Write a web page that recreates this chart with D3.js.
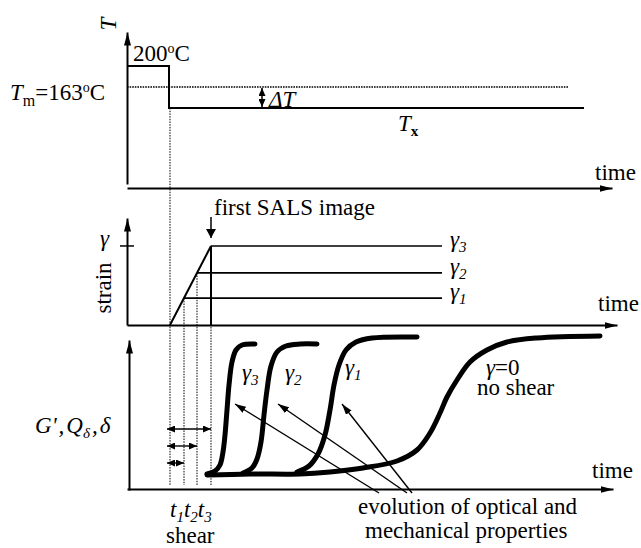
<!DOCTYPE html>
<html>
<head>
<meta charset="utf-8">
<script src="https://cdn.jsdelivr.net/npm/d3@7"></script>
<style>
  html, body { margin: 0; padding: 0; background: #fff; }
  svg { display: block; }
  text { fill: #000; font-family: "Liberation Serif", "Times New Roman", Times, serif; }
</style>
</head>
<body>
<svg id="chart" width="641" height="548"></svg>
<script>
// ---- Temperature protocol (°C vs. time, arbitrary units) ----
const profileTime = [0, 42, 42, 457];
const profileTemp = [200, 200, 126, 126];
const meltTemp = 163;
const meltLineEnd = 442;
const deltaTAt = 135;

// ---- Shear step: start of shear, t1, t2, t3 ----
const shearTimes = [43, 57, 70, 84];
const strainLevels = [0.34, 0.66, 1.0];       // γ1, γ2, γ3 (relative to γ)
const strainNames = ["1", "2", "3"];
const strainLineEnd = 315;

// ---- Property evolution curves (time, property) ----
const curveGamma3 = [[80,16],[88,19],[93,25],[96,38],[98,55],[100,80],[102,105],[105,128],[109,140],[115,145],[128,146]];
const curveGamma2 = [[116,17],[125,22],[130,31],[134,48],[137,75],[140,100],[144,124],[150,138],[159,144],[173,146],[190,146]];
const curveGamma1 = [[170,18],[182,24],[191,36],[198,55],[203,80],[207,105],[212,125],[219,140],[229,148],[245,152],[290,153]];
const curveNoShear = [[80,15],[123,16],[173,16],[203,18],[236,22],[270,29],[290,40],[303,57],[313,77],[320,93],[330,110],[343,128],[360,140],[380,148],[410,152],[473,154]];

// shear-duration arrows (property level where each is drawn)
const durationLevels = [27, 44, 61];
const durationStart = 40;

// pointers from the caption to the curves
const pointerFrom = [[252,-3],[280,-3],[285,-3]];
const pointerTo   = [[108,86],[151,86],[215,86]];

const FONT = "'Liberation Serif', 'Times New Roman', Times, serif";
const svg = d3.select("#chart").attr("font-family", FONT);
const x = d3.scaleLinear().domain([0, 485]).range([127, 612]);
const tempY = d3.scaleLinear().domain([-8, 260]).range([184, 32]);
const strainY = d3.scaleLinear().domain([0, 1.354]).range([325, 218]);
const propY = d3.scaleLinear().domain([0, 150]).range([490, 340]);

// arrowhead markers
const defs = svg.append("defs");
function marker(id, len, half) {
  defs.append("marker")
    .attr("id", id)
    .attr("viewBox", `0 ${-half} ${len} ${2 * half}`)
    .attr("refX", len).attr("refY", 0)
    .attr("markerWidth", len).attr("markerHeight", 2 * half)
    .attr("markerUnits", "userSpaceOnUse")
    .attr("orient", "auto-start-reverse")
    .append("path")
    .attr("d", `M0,${-half}L${len},0L0,${half}Z`)
    .attr("fill", "#000");
}
marker("axArrow", 13, 3.5);
marker("smallArrow", 8, 3.5);
marker("ptrArrow", 11, 3.5);
marker("downArrow", 9, 5);

// ---------- axes ----------
function timeAxis(yPos, end) {
  const g = svg.append("g").attr("transform", `translate(0,${yPos})`)
    .call(d3.axisBottom(x.copy().domain([0, end]).range([x(0), x(end)])).tickValues([]).tickSizeOuter(0));
  g.select(".domain").attr("stroke-width", 2).attr("marker-end", "url(#axArrow)");
}
function valueAxis(scale, xPos) {
  const g = svg.append("g").attr("transform", `translate(${xPos},0)`)
    .call(d3.axisLeft(scale).tickValues([]).tickSizeOuter(0));
  g.select(".domain").attr("stroke-width", 2).attr("marker-end", "url(#axArrow)");
}

timeAxis(188, 485);
valueAxis(tempY, 127);
timeAxis(strainY(0), 490);
valueAxis(strainY, 127);
timeAxis(489, 486);
valueAxis(propY, 129);

// strain tick at γ
svg.append("line")
  .attr("x1", 120).attr("x2", 134)
  .attr("y1", strainY(1)).attr("y2", strainY(1))
  .attr("stroke", "#000").attr("stroke-width", 1.5);

// ---------- temperature panel ----------
svg.append("line")
  .attr("x1", x(0)).attr("x2", x(meltLineEnd))
  .attr("y1", tempY(meltTemp)).attr("y2", tempY(meltTemp))
  .attr("stroke", "#000").attr("stroke-width", 1.4).attr("stroke-dasharray", "1.6,1");

const tempLine = d3.line().x((d, i) => x(profileTime[i])).y((d, i) => tempY(profileTemp[i]));
svg.append("path").attr("d", tempLine(profileTime))
  .attr("fill", "none").attr("stroke", "#000").attr("stroke-width", 2);

svg.append("line")
  .attr("x1", x(deltaTAt)).attr("x2", x(deltaTAt))
  .attr("y1", tempY(meltTemp) + 1).attr("y2", tempY(profileTemp[3]) - 1)
  .attr("stroke", "#000").attr("stroke-width", 1.5)
  .attr("marker-start", "url(#smallArrow)").attr("marker-end", "url(#smallArrow)");

// ---------- dotted guides ----------
const dotted = svg.append("g").attr("stroke", "#000").attr("stroke-width", 1).attr("stroke-dasharray", "1.5,1.2");
dotted.append("line")
  .attr("x1", x(shearTimes[0])).attr("x2", x(shearTimes[0]))
  .attr("y1", tempY(profileTemp[3])).attr("y2", propY(5));
shearTimes.slice(1).forEach((t, i) => {
  dotted.append("line")
    .attr("x1", x(t)).attr("x2", x(t))
    .attr("y1", strainY(strainLevels[i])).attr("y2", propY(5));
});

// ---------- strain panel ----------
const strainG = svg.append("g").attr("stroke", "#000").attr("fill", "none");
strainG.append("line")
  .attr("x1", x(shearTimes[0])).attr("y1", strainY(0))
  .attr("x2", x(shearTimes[3])).attr("y2", strainY(1))
  .attr("stroke-width", 2);
strainG.append("line")
  .attr("x1", x(shearTimes[3])).attr("x2", x(shearTimes[3]))
  .attr("y1", strainY(1)).attr("y2", strainY(0))
  .attr("stroke-width", 2);
strainLevels.forEach((g, i) => {
  strainG.append("line")
    .attr("x1", x(shearTimes[i + 1])).attr("x2", x(strainLineEnd))
    .attr("y1", strainY(g)).attr("y2", strainY(g))
    .attr("stroke-width", 1.6);
});

// first SALS image pointer
svg.append("line")
  .attr("x1", x(shearTimes[3])).attr("x2", x(shearTimes[3]))
  .attr("y1", 217).attr("y2", strainY(1) - 8)
  .attr("stroke", "#000").attr("stroke-width", 1.5)
  .attr("marker-end", "url(#downArrow)");

// ---------- property panel ----------
durationLevels.forEach((v, i) => {
  svg.append("line")
    .attr("x1", x(durationStart)).attr("x2", x(shearTimes[i + 1]))
    .attr("y1", propY(v)).attr("y2", propY(v))
    .attr("stroke", "#000").attr("stroke-width", 1.4)
    .attr("marker-start", "url(#smallArrow)").attr("marker-end", "url(#smallArrow)");
});

const propLine = d3.line().x(d => x(d[0])).y(d => propY(d[1])).curve(d3.curveCatmullRom.alpha(0.5));
[curveNoShear, curveGamma1, curveGamma2, curveGamma3].forEach(c => {
  svg.append("path").attr("d", propLine(c))
    .attr("fill", "none").attr("stroke", "#000").attr("stroke-width", 5)
    .attr("stroke-linecap", "round").attr("stroke-linejoin", "round");
});

pointerFrom.forEach((p, i) => {
  svg.append("line")
    .attr("x1", x(p[0])).attr("y1", propY(p[1]))
    .attr("x2", x(pointerTo[i][0])).attr("y2", propY(pointerTo[i][1]))
    .attr("stroke", "#000").attr("stroke-width", 1.4)
    .attr("marker-end", "url(#ptrArrow)");
});

// ---------- text ----------
function label(xp, yp, parts, opts = {}) {
  const t = svg.append("text")
    .attr("x", xp).attr("y", yp)
    .attr("font-family", FONT)
    .attr("font-size", opts.size || 23);
  if (opts.transform) t.attr("transform", opts.transform).attr("x", 0).attr("y", 0);
  if (opts.anchor) t.attr("text-anchor", opts.anchor);
  parts.forEach(p => {
    const s = t.append("tspan").attr("font-family", FONT).text(p.t);
    if (p.i) s.attr("font-style", "italic");
    if (p.b) s.attr("font-weight", "bold");
    if (p.s) s.attr("font-size", p.s);
    if (p.dy) s.attr("dy", p.dy);
    if (p.dx) s.attr("dx", p.dx);
  });
  return t;
}

// temperature panel
label(0, 0, [{t: "T", i: true}], {transform: "translate(116,24) rotate(-90)", anchor: "middle"});
label(133, 61, [{t: "200"}, {t: "o", s: 14, dy: -8}, {t: "C", dy: 8}]);
label(10, 100, [{t: "T", i: true}, {t: "m", s: 16, dy: 6}, {t: "=163", dy: -6}, {t: "o", s: 14, dy: -8}, {t: "C", dy: 8}]);
label(269, 107, [{t: "ΔT", i: true}]);
label(398, 131, [{t: "T", i: true}, {t: "x", s: 15, b: true, dy: 5}]);
label(595, 180, [{t: "time"}]);

// strain panel
label(100, 246, [{t: "γ", i: true}]);
label(0, 0, [{t: "strain"}], {transform: "translate(111,288) rotate(-90)", anchor: "middle"});
label(214, 215, [{t: "first SALS image"}]);
label(598, 311, [{t: "time"}]);
strainLevels.forEach((g, i) => {
  label(x(strainLineEnd) + 8, strainY(g) + 1,
    [{t: "γ", i: true}, {t: strainNames[i], i: true, s: 15, dy: 5}]);
});

// property panel
label(35, 433, [{t: "G", i: true}, {t: "'", i: true}, {t: ",", i: true, dx: 2}, {t: "Q", i: true, dx: 2}, {t: "δ", i: true, s: 15, dy: 5}, {t: ",", i: true, dy: -5, dx: 2}, {t: "δ", i: true, dx: 2}]);
label(x(115), 380, [{t: "γ", i: true}, {t: "3", i: true, s: 15, dy: 5}]);
label(x(158), 380, [{t: "γ", i: true}, {t: "2", i: true, s: 15, dy: 5}]);
label(x(218), 375, [{t: "γ", i: true}, {t: "1", i: true, s: 15, dy: 5}]);
label(486, 375, [{t: "γ", i: true}, {t: "=0"}]);
label(477, 395, [{t: "no shear"}]);
label(592, 478, [{t: "time"}]);

label(170, 517, [{t: "t", i: true}, {t: "1", i: true, s: 15, dy: 5}, {t: "t", i: true, dy: -5}, {t: "2", i: true, s: 15, dy: 5}, {t: "t", i: true, dy: -5}, {t: "3", i: true, s: 15, dy: 5}]);
label(166, 543, [{t: "shear"}]);
label(358, 514, [{t: "evolution of optical and"}]);
label(365, 538, [{t: "mechanical  properties"}]);
</script>
</body>
</html>
